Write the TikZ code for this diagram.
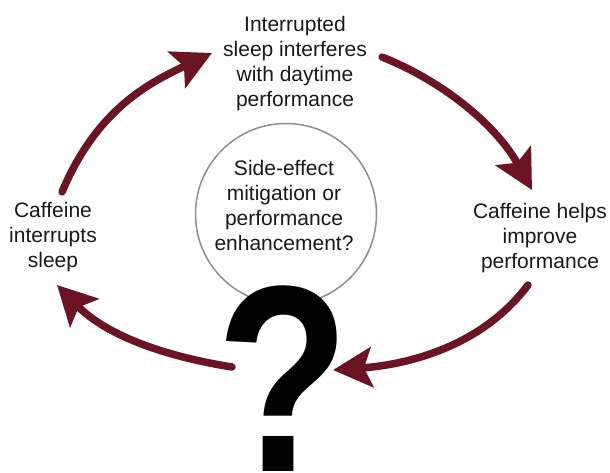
\documentclass[tikz,border=0pt]{standalone}
\usepackage{fontspec}
\setmainfont{Liberation Sans}
\usetikzlibrary{arrows.meta}
\definecolor{maroon}{HTML}{6A1424}
\definecolor{ringgray}{HTML}{8E8E8E}
\begin{document}
\begin{tikzpicture}[x=1pt,y=-1pt,
  lbl/.style={align=center, inner sep=0pt, font=\fontsize{21}{25}\selectfont, text=black!90, anchor=base},
  cyc/.style={draw=maroon, line width=7.5pt, line cap=round, -{Stealth[length=39pt,width=40pt,inset=8pt]}},
  ring/.style={circle, draw=ringgray, line width=1.5pt, minimum size=181pt, inner sep=0pt},
  qmark/.style={inner sep=0pt, anchor=base, font=\fontsize{266}{266}\selectfont\bfseries}
]
\useasboundingbox (0,0) rectangle (610,472);
\fill[white] (0,0) rectangle (610,472);
\node[ring] (ring) at (286,214) {};
\node[lbl] (top) at (295,106) {Interrupted\\sleep interferes\\with daytime\\performance};
\node[lbl] (left) at (53,267) {Caffeine\\interrupts\\sleep};
\node[lbl] (right) at (540,268) {Caffeine helps\\improve\\performance};
\node[lbl] (mid) at (284,250) {Side-effect\\mitigation or\\performance\\enhancement?};
\node[qmark] (qm) at (283,471) {\scalebox{0.82}[1]{?}};
\coordinate (a1s) at (62,192);  \coordinate (a1e) at (212,53);
\coordinate (a2s) at (382,57);  \coordinate (a2e) at (532,190);
\coordinate (a3s) at (528,285); \coordinate (a3e) at (333,370);
\coordinate (a4s) at (232,367); \coordinate (a4e) at (57,285);
\draw[cyc] (a1s) .. controls (97,109) and (149,83) .. (a1e);
\draw[cyc] (a2s) .. controls (447,83) and (498,128) .. (a2e);
\draw[cyc] (a3s) .. controls (480,349) and (403,365) .. (a3e);
\draw[cyc] (a4s) .. controls (163,356) and (106,335) .. (a4e);
\end{tikzpicture}
\end{document}
